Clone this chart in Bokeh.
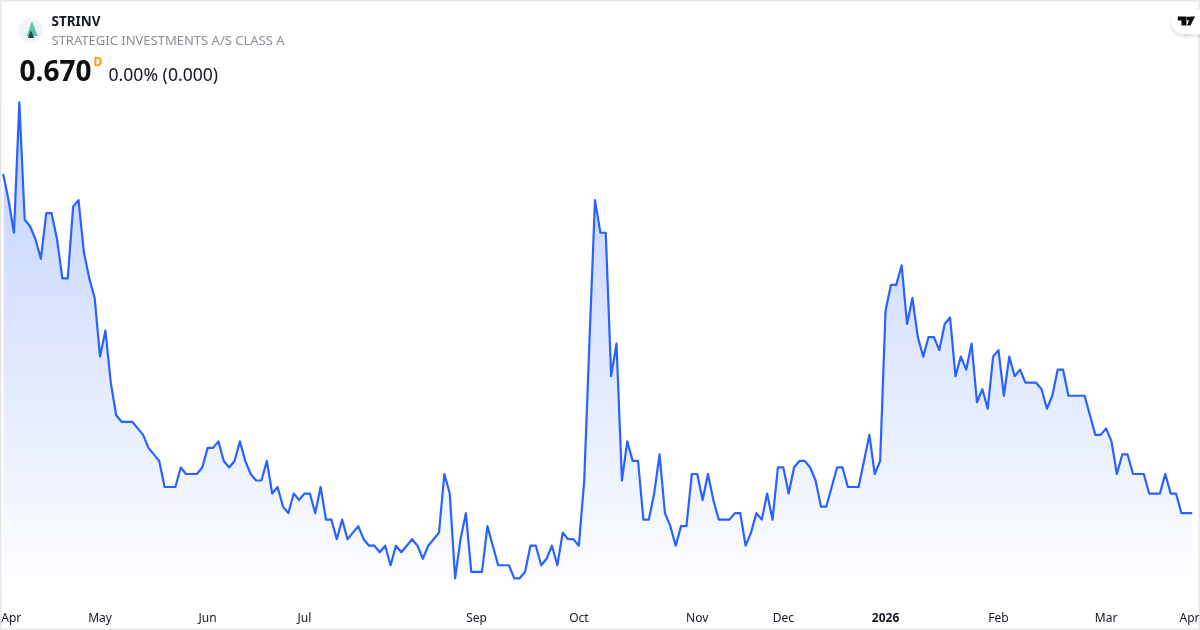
from bokeh.plotting import figure
from bokeh.models import Range1d, FixedTicker, Label
from bokeh.embed import file_html
from bokeh.resources import INLINE
import numpy as np

# Closing prices (one per session)
prices = [
 0.930,0.910,0.885,0.985,0.895,0.890,0.880,0.865,0.900,0.900,
 0.880,0.850,0.850,0.905,0.910,0.870,0.850,0.835,0.790,0.810,
 0.770,0.745,0.740,0.740,0.740,0.735,0.730,0.720,0.715,0.710,
 0.690,0.690,0.690,0.705,0.700,0.700,0.700,0.705,0.720,0.720,
 0.725,0.710,0.705,0.710,0.725,0.710,0.700,0.695,0.695,0.710,
 0.685,0.690,0.675,0.670,0.685,0.680,0.685,0.685,0.670,0.690,
 0.665,0.665,0.650,0.665,0.650,0.655,0.660,0.650,0.645,0.645,
 0.640,0.645,0.630,0.645,0.640,0.645,0.650,0.645,0.635,0.645,
 0.650,0.655,0.700,0.685,0.620,0.650,0.670,0.625,0.625,0.625,
 0.660,0.645,0.630,0.630,0.630,0.620,0.620,0.625,0.645,0.645,
 0.630,0.635,0.645,0.630,0.655,0.650,0.650,0.645,0.695,0.805,
 0.910,0.885,0.885,0.775,0.800,0.695,0.725,0.710,0.710,0.665,
 0.665,0.685,0.715,0.670,0.660,0.645,0.660,0.660,0.700,0.700,
 0.680,0.700,0.680,0.665,0.665,0.665,0.670,0.670,0.645,0.655,
 0.670,0.665,0.685,0.665,0.705,0.705,0.685,0.705,0.710,0.710,
 0.705,0.695,0.675,0.675,0.690,0.705,0.705,0.690,0.690,0.690,
 0.710,0.730,0.700,0.710,0.825,0.845,0.845,0.860,0.815,0.835,
 0.805,0.790,0.805,0.805,0.795,0.815,0.820,0.775,0.790,0.780,
 0.800,0.755,0.765,0.750,0.790,0.795,0.760,0.790,0.775,0.780,
 0.770,0.770,0.770,0.765,0.750,0.760,0.780,0.780,0.760,0.760,
 0.760,0.760,0.745,0.730,0.730,0.735,0.725,0.700,0.715,0.715,
 0.700,0.700,0.700,0.685,0.685,0.685,0.700,0.685,0.685,0.670,
 0.670,0.670,
]
sessions = list(range(len(prices)))

tick_sessions = [1.5, 18, 38, 56, 88, 107, 129, 145, 185, 205, 220.5]
tick_labels = ["Apr", "May", "Jun", "Jul", "Sep", "Oct", "Nov", "Dec", "Feb", "Mar", "Apr"]
year_session = 164
year_label = "2026"

symbol = "STRINV"
name = "STRATEGIC INVESTMENTS A/S CLASS A"
last_price = "0.670"
badge = "D"
change = "0.00% (0.000)"

LINE = "#2962FF"
W, H = 1200, 630
x0 = -2.7 / 5.38
x1 = (W - 2.7) / 5.38
y_top = 0.67 + 512.6 / 1304
y_bot = 0.67 - 117.4 / 1304

p = figure(width=W, height=H, output_backend="svg", toolbar_location=None,
           x_range=Range1d(x0, x1), y_range=Range1d(y_bot, y_top),
           min_border=0, min_border_left=0, min_border_right=0,
           min_border_top=0, min_border_bottom=0,
           tools="", x_axis_type="linear", y_axis_type=None,
           background_fill_color="white", border_fill_color="white")
p.styles = {"position": "fixed", "left": "0px", "top": "0px"}
p.grid.visible = False
p.outline_line_color = "#e6e6e6"
p.outline_line_width = 2

# Pixel-based range for the page furniture (logos)
p.extra_x_ranges["px"] = Range1d(0, W)
p.extra_y_ranges["px"] = Range1d(H, 0)

# Gradient under the line: image, masked above the line with white
top_price = max(prices)
rows = 256
grad_bottom = 0.67 - 97 / 1304
t = np.linspace(0, 1, rows)  # bottom -> top
img = np.zeros((rows, 1, 4), dtype=np.uint8)
img[..., 0] = 41; img[..., 1] = 98; img[..., 2] = 255
img[:, 0, 3] = (t * 0.3 * 255).astype(np.uint8)
rgba = img.view(dtype=np.uint32).reshape(rows, 1)
p.image_rgba(image=[rgba], x=sessions[0] + 0.08, y=grad_bottom, dw=sessions[-1] - sessions[0] - 0.16,
             dh=top_price - grad_bottom)
p.varea(x=sessions, y1=prices, y2=[top_price + 0.01] * len(prices), fill_color="white")
p.line(sessions, prices, line_color=LINE, line_width=2.2, line_join="round")

# Axis inside the frame
ax = p.xaxis[0]
ax.fixed_location = 0.67 - 94 / 1304
ax.ticker = FixedTicker(ticks=tick_sessions)
ax.major_label_overrides = dict(zip(tick_sessions, tick_labels))
ax.axis_line_color = None
ax.major_tick_line_color = None
ax.minor_tick_line_color = None
ax.major_tick_in = 0
ax.major_tick_out = 0
ax.major_label_standoff = 2
ax.major_label_text_font = "Noto Sans"
ax.major_label_text_font_size = "12px"
ax.major_label_text_color = "#131722"

p.add_layout(Label(x=year_session, y=H - 617, x_units="data", y_units="screen", text=year_label,
                   text_font="Noto Sans", text_font_size="12px", text_font_style="bold",
                   text_color="#131722", text_align="center", text_baseline="middle"))

def label(x, y, text, size, color, style="normal"):
    p.add_layout(Label(x=x, y=H - y, x_units="screen", y_units="screen", text=text,
                       text_font="Noto Sans", text_font_size=size, text_font_style=style,
                       text_color=color, text_align="left", text_baseline="middle"))

label(51, 20, symbol, "13.5px", "#131722", "bold")
label(51, 39.5, name, "13px", "#8a8e99")
label(19, 70, last_price, "28px", "#0f0f0f", "bold")
label(93, 61, badge, "12px", "#ff9800", "bold")
label(108, 73, change, "17.6px", "#131722")

# Company logo
p.scatter([30], [30], size=24, color="#f0f3fa", x_range_name="px", y_range_name="px")
p.patch([31.5, 27, 36.5], [22, 35, 35], color="#52c7a5", x_range_name="px", y_range_name="px")
p.patch([30.5, 28, 33], [31, 37, 37], color="#3a3f46", x_range_name="px", y_range_name="px")

# TradingView pill
for s, a in [(31, 0.012), (29, 0.02), (27, 0.03)]:
    p.scatter([1183], [23], size=s, color="#000000", alpha=a, line_color=None,
              x_range_name="px", y_range_name="px")
    p.quad(left=[1183], right=[1200], top=[23 - s / 2], bottom=[23 + s / 2], color="#000000", alpha=a,
           line_color=None, x_range_name="px", y_range_name="px")
p.scatter([1183], [21], size=25, color="white", line_color=None, x_range_name="px", y_range_name="px")
p.quad(left=[1183], right=[1200], top=[8.5], bottom=[33.5], color="white", line_color=None,
       x_range_name="px", y_range_name="px")
p.patch([1177.3, 1186, 1186, 1181, 1181, 1177.3], [16, 16, 25, 25, 20, 20], color="#0a0a0a",
        line_color=None, x_range_name="px", y_range_name="px")
p.scatter([1188], [18], size=4, color="#0a0a0a", line_color=None, x_range_name="px", y_range_name="px")
p.patch([1190, 1194.5, 1190, 1186.5], [16, 16, 25, 25], color="#0a0a0a",
        line_color=None, x_range_name="px", y_range_name="px")

open("out.html", "w").write(file_html(p, INLINE))
